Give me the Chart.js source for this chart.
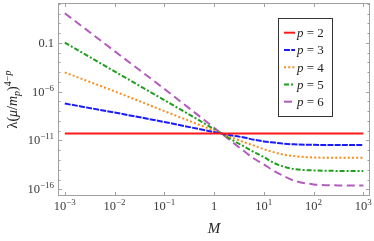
<!DOCTYPE html>
<html>
<head>
<meta charset="utf-8">
<script src="https://cdn.jsdelivr.net/npm/chart.js@4.4.1/dist/chart.umd.min.js"></script>
<style>
  html, body { margin: 0; padding: 0; background: #fff; }
  canvas { display: block; }
</style>
</head>
<body>
<canvas id="chart" width="374" height="241"></canvas>
<script>
// values (log-log)
const mVals = [1e-3, 1e-2, 0.1, 1, 1.585, 2.512, 3.981, 6.31, 10, 15.85, 25.12, 39.81, 100, 316.2, 1000];
const p2 = [5.1e-11, 5.1e-11, 5.1e-11, 5.1e-11, 5.1e-11, 5.1e-11, 5.1e-11, 5.1e-11, 5.1e-11, 5.1e-11, 5.1e-11, 5.1e-11, 5.1e-11, 5.1e-11, 5.1e-11];
const p3 = [6.03e-8, 7.24e-9, 7.76e-10, 7.24e-11, 4.57e-11, 3.02e-11, 2.0e-11, 1.2e-11, 7.94e-12, 6.03e-12, 4.68e-12, 3.98e-12, 3.55e-12, 3.47e-12, 3.47e-12];
const p4 = [9.33e-5, 1.07e-6, 1.02e-8, 1.02e-10, 4.07e-11, 1.62e-11, 6.76e-12, 3.02e-12, 1.26e-12, 6.31e-13, 3.55e-13, 2.51e-13, 1.82e-13, 1.70e-13, 1.70e-13];
const p5 = [0.107, 1.17e-4, 1.38e-7, 1.45e-10, 3.63e-11, 9.12e-12, 2.40e-12, 6.61e-13, 2.0e-13, 5.01e-14, 2.09e-14, 1.20e-14, 8.51e-15, 7.59e-15, 7.41e-15];
const p6 = [107, 0.0141, 1.91e-6, 2.0e-10, 3.16e-11, 5.01e-12, 8.32e-13, 1.41e-13, 3.55e-14, 7.94e-15, 2.24e-15, 7.94e-16, 3.16e-16, 2.51e-16, 2.51e-16];
const seriesNames = ['2', '3', '4', '5', '6'];

const xTicks = [1e-3, 1e-2, 0.1, 1, 10, 100, 1000];
const xTickLabels = [['10', '−3'], ['10', '−2'], ['10', '−1'], ['1', ''], ['10', '1'], ['10', '2'], ['10', '3']];
const yTicks = [0.1, 1e-6, 1e-11, 1e-16];
const yTickLabels = [['0.1', ''], ['10', '−6'], ['10', '−11'], ['10', '−16']];

const SERIF = "'Liberation Serif', 'DejaVu Serif', serif";
const colors = ['#ff1a1a', '#1a1aff', '#ff8c1a', '#1f9e1f', '#b35cbd'];
const dashes = [[], [6, 1.2], [2, 2.2], [5, 2, 2, 2], [8, 4.5]];

const toPts = arr => mVals.map((m, i) => ({ x: m, y: arr[i] }));
const allSeries = [p2, p3, p4, p5, p6];

// draw text made of several pieces: [text, font, dy]
function drawRich(ctx, parts, x, y, align) {
  let w = 0;
  parts.forEach(p => { ctx.font = p[1]; w += ctx.measureText(p[0]).width; });
  let cx = align === 'center' ? x - w / 2 : align === 'right' ? x - w : x;
  parts.forEach(p => {
    ctx.font = p[1];
    ctx.fillText(p[0], cx, y + (p[2] || 0));
    cx += ctx.measureText(p[0]).width;
  });
}

const framePlugin = {
  id: 'frame',
  afterDraw(chart) {
    const { ctx, chartArea: a, scales } = chart;
    const xs = scales.x, ys = scales.y;
    ctx.save();
    ctx.strokeStyle = '#a0a0a0';
    ctx.lineWidth = 1;
    ctx.strokeRect(a.left + 0.5, a.top + 0.5, a.right - a.left - 1, a.bottom - a.top - 1);

    ctx.beginPath();
    xTicks.forEach(v => {
      const px = Math.round(xs.getPixelForValue(v)) + 0.5;
      ctx.moveTo(px, a.bottom); ctx.lineTo(px, a.bottom - 4);
      ctx.moveTo(px, a.top); ctx.lineTo(px, a.top + 4);
    });
    for (let e = -16; e <= 3; e++) {
      const py = Math.round(ys.getPixelForValue(Math.pow(10, e))) + 0.5;
      const len = (e + 1) % 5 === 0 ? 4 : 2.5;
      ctx.moveTo(a.left, py); ctx.lineTo(a.left + len, py);
      ctx.moveTo(a.right, py); ctx.lineTo(a.right - len, py);
    }
    ctx.stroke();

    // tick labels
    ctx.fillStyle = '#3a3a3a';
    ctx.textBaseline = 'alphabetic';
    xTicks.forEach((v, i) => {
      const px = xs.getPixelForValue(v);
      const [b, e] = xTickLabels[i];
      drawRich(ctx, [[b, '12.5px ' + SERIF, 0], [e, '9px ' + SERIF, -5]], px, 210, 'center');
    });
    yTicks.forEach((v, i) => {
      const py = ys.getPixelForValue(v);
      const [b, e] = yTickLabels[i];
      drawRich(ctx, [[b, '12.5px ' + SERIF, 0], [e, '9px ' + SERIF, -5]], 54, py + 4, 'right');
    });

    // axis titles
    ctx.fillStyle = '#222';
    drawRich(ctx, [['M', 'italic 15px ' + SERIF, 0]], (a.left + a.right) / 2, 233, 'center');
    ctx.save();
    ctx.translate(17, (a.top + a.bottom) / 2);
    ctx.rotate(-Math.PI / 2);
    drawRich(ctx, [
      ['λ(', '14px ' + SERIF, 0],
      ['μ', 'italic 14px ' + SERIF, 0],
      ['/', '14px ' + SERIF, 0],
      ['m', 'italic 14px ' + SERIF, 0],
      ['p', 'italic 10px ' + SERIF, 3],
      [')', '14px ' + SERIF, 0],
      ['4−', '10px ' + SERIF, -6],
      ['p', 'italic 10px ' + SERIF, -6]
    ], 0, 0, 'center');
    ctx.restore();

    // legend
    const lx = 278, ly = 18, lw = 54, lh = 98;
    ctx.fillStyle = '#fff';
    ctx.fillRect(lx, ly, lw, lh);
    ctx.strokeStyle = '#333';
    ctx.strokeRect(lx + 0.5, ly + 0.5, lw, lh);
    chart.data.datasets.forEach((ds, i) => {
      const yy = 32.7 + i * 17.25;
      ctx.strokeStyle = ds.borderColor;
      ctx.lineWidth = 2;
      ctx.setLineDash(ds.borderDash);
      ctx.beginPath();
      ctx.moveTo(284, yy); ctx.lineTo(295, yy);
      ctx.stroke();
      ctx.setLineDash([]);
      ctx.fillStyle = '#222';
      drawRich(ctx, [['p', 'italic 13px ' + SERIF, 0], [' = ' + seriesNames[i], '13px ' + SERIF, 0]], 297, yy + 4.5, 'left');
    });
    ctx.restore();
  }
};

new Chart(document.getElementById('chart'), {
  type: 'line',
  data: {
    datasets: allSeries.map((arr, i) => ({
      label: 'p = ' + seriesNames[i],
      data: toPts(arr),
      borderColor: colors[i],
      borderDash: dashes[i],
      borderWidth: 2,
      pointRadius: 0,
      fill: false,
      cubicInterpolationMode: 'monotone'
    }))
  },
  options: {
    responsive: false,
    animation: false,
    devicePixelRatio: 1,
    layout: { padding: { left: 58, top: 3, right: 4, bottom: 45 } },
    scales: {
      x: { type: 'logarithmic', display: false, min: 7.3e-4, max: 1360 },
      y: { type: 'logarithmic', display: false, min: 2.05e-17, max: 1200 }
    },
    plugins: { legend: { display: false }, tooltip: { enabled: false } }
  },
  plugins: [framePlugin]
});
</script>
</body>
</html>
